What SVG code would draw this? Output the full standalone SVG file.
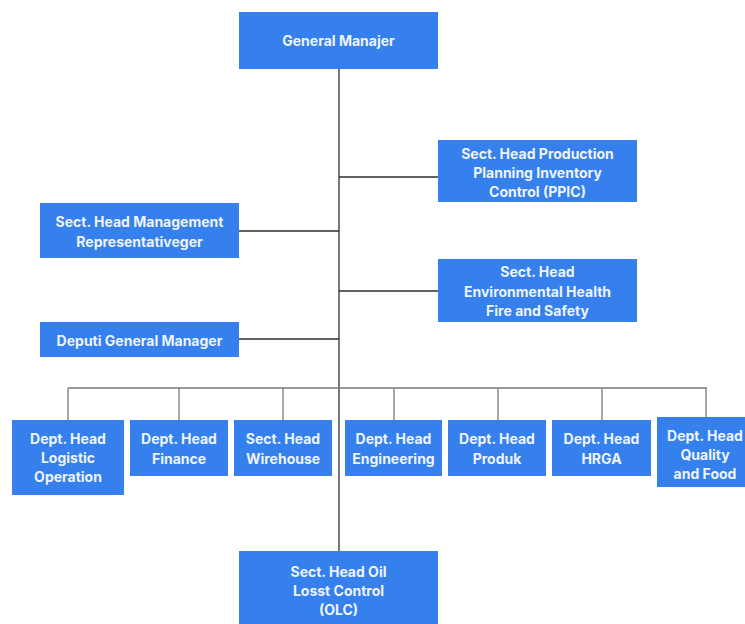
<svg xmlns="http://www.w3.org/2000/svg" width="745" height="624" viewBox="0 0 745 624">
<style>
.box{fill:#3580ec}
.t{font-family:Inter,"Liberation Sans",sans-serif;font-weight:700;font-size:14px;fill:#eef4ff;text-anchor:middle;dominant-baseline:central}
.main{stroke:#2e2e2e;stroke-width:1.3;fill:none}
.sub{stroke:#7a7a7a;stroke-width:1.3;fill:none}
</style>
<rect width="745" height="624" fill="#ffffff"/>
<g id="connectors">
<path class="main" d="M339 69V551"/>
<path class="main" d="M339 177H438M239 231H339M339 291H438M239 339H339"/>
<path class="sub" d="M68 388H707M68 388V420M179 388V420M283 388V420M394 388V420M498 388V420M602 388V420M706 388V417"/>
</g>
<g id="gm"><rect class="box" x="239" y="12" width="199" height="57"/><text class="t" x="338.5" y="40">General Manajer</text></g>
<g id="ppic"><rect class="box" x="438" y="140" width="199" height="62"/><text class="t" x="537.5" y="153">Sect. Head Production</text><text class="t" x="537.5" y="172">Planning Inventory</text><text class="t" x="537.5" y="191">Control (PPIC)</text></g>
<g id="mr"><rect class="box" x="40" y="203" width="199" height="55"/><text class="t" x="139.5" y="221">Sect. Head Management</text><text class="t" x="139.5" y="241">Representativeger</text></g>
<g id="ehs"><rect class="box" x="438" y="259" width="199" height="63"/><text class="t" x="537.5" y="271">Sect. Head</text><text class="t" x="537.5" y="291">Environmental Health</text><text class="t" x="537.5" y="310">Fire and Safety</text></g>
<g id="dgm"><rect class="box" x="40" y="322" width="199" height="35"/><text class="t" x="139.5" y="340">Deputi General Manager</text></g>
<g id="logistic"><rect class="box" x="12" y="420" width="112" height="75"/><text class="t" x="68" y="438">Dept. Head</text><text class="t" x="68" y="457">Logistic</text><text class="t" x="68" y="476">Operation</text></g>
<g id="finance"><rect class="box" x="130" y="420" width="98" height="56"/><text class="t" x="179" y="438">Dept. Head</text><text class="t" x="179" y="458">Finance</text></g>
<g id="wirehouse"><rect class="box" x="234" y="420" width="98" height="56"/><text class="t" x="283" y="438">Sect. Head</text><text class="t" x="283" y="458">Wirehouse</text></g>
<g id="engineering"><rect class="box" x="345" y="420" width="97" height="56"/><text class="t" x="393.5" y="438">Dept. Head</text><text class="t" x="393.5" y="458">Engineering</text></g>
<g id="produk"><rect class="box" x="448" y="420" width="98" height="56"/><text class="t" x="497" y="438">Dept. Head</text><text class="t" x="497" y="458">Produk</text></g>
<g id="hrga"><rect class="box" x="552" y="420" width="99" height="56"/><text class="t" x="601.5" y="438">Dept. Head</text><text class="t" x="601.5" y="458">HRGA</text></g>
<g id="quality"><rect class="box" x="657" y="417" width="88" height="70"/><text class="t" x="705" y="435">Dept. Head</text><text class="t" x="705" y="454">Quality</text><text class="t" x="705" y="473">and Food</text></g>
<g id="olc"><rect class="box" x="239" y="551" width="199" height="73"/><text class="t" x="338.5" y="571">Sect. Head Oil</text><text class="t" x="338.5" y="590">Losst Control</text><text class="t" x="338.5" y="609">(OLC)</text></g>
</svg>
